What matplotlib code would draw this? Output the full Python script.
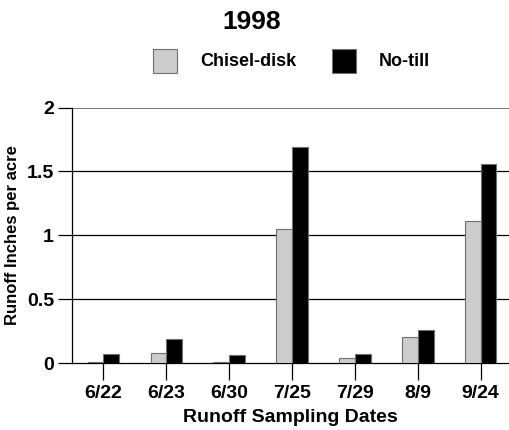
import numpy as np
import matplotlib
matplotlib.use("Agg")
import matplotlib.pyplot as plt
from matplotlib.patches import Rectangle

plt.rcParams['font.family'] = ['Liberation Sans', 'DejaVu Sans']
plt.rcParams['font.weight'] = 'bold'

dates = ["6/22", "6/23", "6/30", "7/25", "7/29", "8/9", "9/24"]
chisel_disk = [0.01, 0.08, 0.01, 1.05, 0.04, 0.20, 1.11]
no_till = [0.07, 0.185, 0.06, 1.69, 0.07, 0.26, 1.555]

W, H = 509, 430
fig = plt.figure(figsize=(W / 100, H / 100), dpi=100)
ax = fig.add_axes([72 / W, (H - 363) / H, (509 - 72) / W, (363 - 107.5) / H])

x = np.arange(len(dates))
bw = 0.25
ax.bar(x - bw / 2, chisel_disk, bw, color='#cccccc', edgecolor='#707070', linewidth=0.8, zorder=3)
ax.bar(x + bw / 2, no_till, bw, color='black', edgecolor='#707070', linewidth=0.8, zorder=3)

for v in [0.5, 1.0, 1.5]:
    ax.axhline(v, color='black', linewidth=0.9, zorder=1)
ax.axhline(2.0, color='#606060', linewidth=1.2, zorder=1)

ax.set_xlim(-0.5, 6.45)
ax.set_ylim(0, 2)
ax.set_yticks([0, 0.5, 1, 1.5, 2])
ax.set_yticklabels(["0", "0.5", "1", "1.5", "2"])
ax.set_xticks(x)
ax.set_xticklabels(dates)

for s in ['top', 'right']:
    ax.spines[s].set_visible(False)
ax.spines['left'].set_linewidth(0.9)
ax.spines['bottom'].set_linewidth(0.9)

ax.tick_params(axis='x', length=12, width=0.9, labelsize=14, pad=4)
ax.tick_params(axis='y', length=10, width=0.9, labelsize=14, pad=3)

ax.set_xlabel("Runoff Sampling Dates", fontsize=14, fontweight='bold', labelpad=5)
ax.set_ylabel("Runoff Inches per acre", fontsize=12, fontweight='bold', labelpad=5)

fig.text(252 / W, 1 - 22 / H, "1998", ha='center', va='center', fontsize=19, fontweight='bold')

# legend
fig.patches.append(Rectangle((153 / W, 1 - 73 / H), 24 / W, 24 / H, transform=fig.transFigure,
                             facecolor='#cccccc', edgecolor='#707070', linewidth=0.8))
fig.text(200 / W, 1 - 61 / H, "Chisel-disk", ha='left', va='center', fontsize=13, fontweight='bold')
fig.patches.append(Rectangle((332 / W, 1 - 73 / H), 24 / W, 24 / H, transform=fig.transFigure,
                             facecolor='black', edgecolor='#707070', linewidth=0.8))
fig.text(379 / W, 1 - 61 / H, "No-till", ha='left', va='center', fontsize=13, fontweight='bold')

fig.savefig("out.png", dpi=100)
